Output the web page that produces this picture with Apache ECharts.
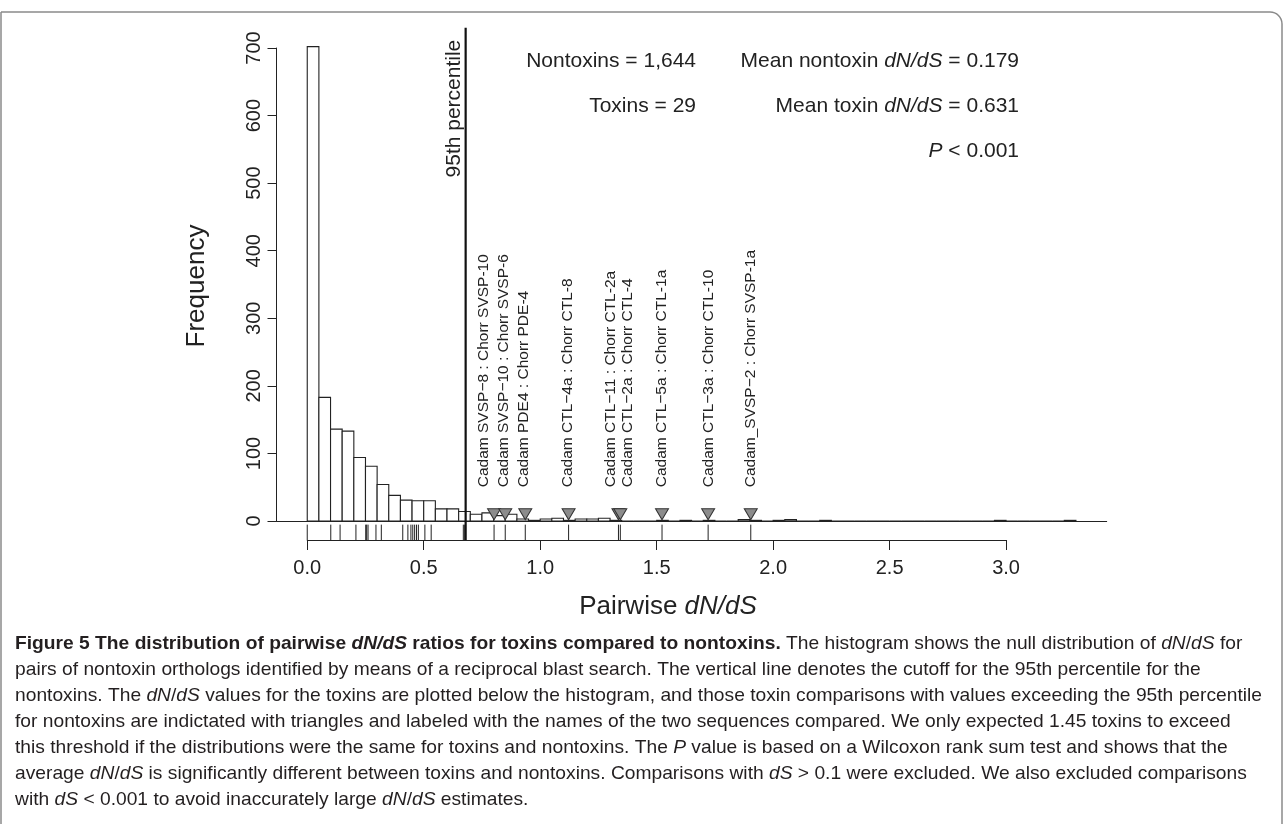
<!DOCTYPE html>
<html>
<head>
<meta charset="utf-8">
<title>Pairwise dN/dS</title>
<script src="https://cdn.jsdelivr.net/npm/echarts@6/dist/echarts.min.js"></script>
<style>
  html, body { margin: 0; padding: 0; background: #fff; }
  #chart { width: 1284px; height: 824px; }
</style>
</head>
<body>
<div id="chart"></div>
<script>
// nontoxin histogram, bins of 0.05 starting at 0
var binWidth = 0.05;
var nontoxinCounts = [
  702, 183, 136, 133, 94, 81, 54, 38, 31, 30,
  30, 18, 18, 14, 10, 12, 8, 10, 3, 1,
  3, 4, 1, 3, 3, 4, 1, 0, 0, 0,
  1, 0, 1, 0, 1, 0, 0, 2, 1, 0,
  1, 2, 0, 0, 1, 0, 0, 0, 0, 0,
  0, 0, 0, 0, 0, 0, 0, 0, 0, 1,
  0, 0, 0, 0, 0, 1
];

// toxin dN/dS values (rug)
var toxinRatios = [
  0.0, 0.101, 0.141, 0.209, 0.251, 0.255, 0.261, 0.295, 0.318,
  0.41, 0.432, 0.445, 0.453, 0.461, 0.469, 0.477, 0.505, 0.532,
  0.670, 0.676,
  0.802, 0.850, 0.936, 1.122, 1.336, 1.344, 1.523, 1.721, 1.904
];

var cutoff95 = 0.68;

// toxins above the cutoff (triangles + names)
var exceedRatios = [0.802, 0.850, 0.936, 1.122, 1.336, 1.344, 1.523, 1.721, 1.904];
var exceedNames = [
  'Cadam SVSP\u22128 : Chorr SVSP-10',
  'Cadam SVSP\u221210 : Chorr SVSP-6',
  'Cadam PDE4 : Chorr PDE-4',
  'Cadam CTL\u22124a : Chorr CTL-8',
  'Cadam CTL\u221211 : Chorr CTL-2a',
  'Cadam CTL\u22122a : Chorr CTL-4',
  'Cadam CTL\u22125a : Chorr CTL-1a',
  'Cadam CTL\u22123a : Chorr CTL-10',
  'Cadam_SVSP\u22122 : Chorr SVSP-1a'
];
// where the names sit along x (spread apart where they would collide)
var nameAt = [0.757, 0.843, 0.929, 1.118, 1.302, 1.376, 1.522, 1.722, 1.904];

var FONT = '"Liberation Sans", Arial, Helvetica, sans-serif';
var INK = '#222';

// plot region (R usr) and its place on the page
var X_MIN = -0.132, X_MAX = 3.432, Y_MIN = -28.08, Y_MAX = 730.08;
var plot = {left: 276.5, top: 27.7, width: 830.2, height: 512.3};
var pxX = plot.width / (X_MAX - X_MIN);
var pxY = plot.height / (Y_MAX - Y_MIN);

var chart = echarts.init(document.getElementById('chart'));

// caption, one entry per printed line: [style, text]
var captionLines = [
  [['b', 'Figure 5 The distribution of pairwise '], ['bi', 'dN/dS'], ['b', ' ratios for toxins compared to nontoxins.'],
   ['n', ' The histogram shows the null distribution of '], ['i', 'dN'], ['n', '/'], ['i', 'dS'], ['n', ' for']],
  [['n', 'pairs of nontoxin orthologs identified by means of a reciprocal blast search. The vertical line denotes the cutoff for the 95th percentile for the']],
  [['n', 'nontoxins. The '], ['i', 'dN'], ['n', '/'], ['i', 'dS'], ['n', ' values for the toxins are plotted below the histogram, and those toxin comparisons with values exceeding the 95th percentile']],
  [['n', 'for nontoxins are indictated with triangles and labeled with the names of the two sequences compared. We only expected 1.45 toxins to exceed']],
  [['n', 'this threshold if the distributions were the same for toxins and nontoxins. The '], ['i', 'P'], ['n', ' value is based on a Wilcoxon rank sum test and shows that the']],
  [['n', 'average '], ['i', 'dN'], ['n', '/'], ['i', 'dS'], ['n', ' is significantly different between toxins and nontoxins. Comparisons with '], ['i', 'dS'], ['n', ' > 0.1 were excluded. We also excluded comparisons']],
  [['n', 'with '], ['i', 'dS'], ['n', ' < 0.001 to avoid inaccurately large '], ['i', 'dN'], ['n', '/'], ['i', 'dS'], ['n', ' estimates.']]
];
var capSize = 19;
var capStyles = {
  n: {fontWeight: 'normal', fontStyle: 'normal'},
  i: {fontWeight: 'normal', fontStyle: 'italic'},
  b: {fontWeight: 'bold', fontStyle: 'normal'},
  bi: {fontWeight: 'bold', fontStyle: 'italic'}
};
var ctx = document.createElement('canvas').getContext('2d');
function lineWidth(line) {
  var w = 0;
  line.forEach(function (s) {
    var st = capStyles[s[0]];
    ctx.font = st.fontStyle + ' ' + st.fontWeight + ' ' + capSize + 'px ' + FONT;
    w += ctx.measureText(s[1]).width;
  });
  return w;
}
// the third line runs the full measure in the original
var capScale = 1247 / lineWidth(captionLines[2]);
var capRich = {};
Object.keys(capStyles).forEach(function (k) {
  capRich[k] = {
    fontFamily: FONT, fontSize: capSize, fill: '#231f20',
    fontWeight: capStyles[k].fontWeight, fontStyle: capStyles[k].fontStyle
  };
});
var captionGraphics = captionLines.map(function (line, i) {
  return {
    type: 'text', x: 15, y: 644 + i * 26, scaleX: capScale,
    style: {
      text: line.map(function (s) { return '{' + s[0] + '|' + s[1] + '}'; }).join(''),
      rich: capRich, textAlign: 'left', textVerticalAlign: 'middle'
    }
  };
});

function annot(x, y, text, align) {
  return {
    type: 'text', x: x, y: y,
    style: {
      text: text, textAlign: align, textVerticalAlign: 'middle',
      rich: {
        n: {fontFamily: FONT, fontSize: 21, fill: INK},
        i: {fontFamily: FONT, fontSize: 21, fill: INK, fontStyle: 'italic'}
      }
    }
  };
}

var option = {
  animation: false,
  backgroundColor: '#fff',
  grid: [
    {left: plot.left, top: plot.top, width: plot.width, height: plot.height},
    // y axis drawn only from 0 to 700
    {left: plot.left, top: plot.top + (Y_MAX - 700) * pxY, width: 10, height: 700 * pxY},
    // x axis drawn only from 0.0 to 3.0
    {left: plot.left + (0 - X_MIN) * pxX, top: plot.top + plot.height - 10, width: 3 * pxX, height: 10}
  ],
  xAxis: [
    {gridIndex: 0, type: 'value', min: X_MIN, max: X_MAX,
     axisLine: {show: true, onZero: true, lineStyle: {color: INK, width: 1}},
     axisTick: {show: false}, axisLabel: {show: false}, splitLine: {show: false}},
    {gridIndex: 1, type: 'value', min: 0, max: 1, show: false},
    {gridIndex: 2, type: 'value', min: 0, max: 3, interval: 0.5, position: 'bottom',
     axisLine: {show: true, onZero: false, lineStyle: {color: INK, width: 1}},
     axisTick: {show: true, length: 10, lineStyle: {color: INK, width: 1}},
     axisLabel: {margin: 18, fontSize: 20, fontFamily: FONT, color: INK,
                 formatter: function (v) { return v.toFixed(1); }},
     splitLine: {show: false}}
  ],
  yAxis: [
    {gridIndex: 0, type: 'value', min: Y_MIN, max: Y_MAX,
     axisLine: {show: false}, axisTick: {show: false}, axisLabel: {show: false}, splitLine: {show: false}},
    {gridIndex: 1, type: 'value', min: 0, max: 700, interval: 100,
     axisLine: {show: true, lineStyle: {color: INK, width: 1}},
     axisTick: {show: true, length: 9, lineStyle: {color: INK, width: 1}},
     axisLabel: {rotate: 90, margin: 12, fontSize: 20, fontFamily: FONT, color: INK},
     splitLine: {show: false}},
    {gridIndex: 2, type: 'value', min: 0, max: 1, show: false}
  ],
  series: [
    {
      name: 'nontoxins', type: 'custom', xAxisIndex: 0, yAxisIndex: 0,
      data: nontoxinCounts.map(function (n, i) { return [i * binWidth, n]; }),
      renderItem: function (params, api) {
        var x0 = api.value(0), n = api.value(1);
        var a = api.coord([x0, 0]);
        var b = api.coord([x0 + binWidth, n]);
        return {
          type: 'rect',
          shape: {x: a[0], y: b[1], width: b[0] - a[0], height: a[1] - b[1]},
          style: {fill: '#fff', stroke: INK, lineWidth: 1.1}
        };
      }
    },
    {
      name: 'rug', type: 'custom', xAxisIndex: 0, yAxisIndex: 0,
      data: toxinRatios.map(function (v) { return [v, 0]; }),
      renderItem: function (params, api) {
        var v = api.value(0);
        var a = api.coord([v, Y_MIN]);
        var b = api.coord([v, Y_MIN + 0.03 * (Y_MAX - Y_MIN)]);
        return {
          type: 'line',
          shape: {x1: a[0], y1: a[1], x2: b[0], y2: b[1]},
          style: {stroke: INK, lineWidth: 1}
        };
      }
    },
    {
      name: 'cutoff', type: 'custom', xAxisIndex: 0, yAxisIndex: 0, z: 5,
      data: [[cutoff95, 0]],
      renderItem: function (params, api) {
        var v = api.value(0);
        var a = api.coord([v, Y_MIN]);
        var b = api.coord([v, Y_MAX]);
        return {
          type: 'group',
          children: [
            {type: 'line', shape: {x1: a[0], y1: a[1], x2: b[0], y2: b[1]},
             style: {stroke: '#111', lineWidth: 2.2}},
            {type: 'text', x: b[0] - 11, y: b[1] + 12, rotation: Math.PI / 2,
             style: {text: '95th percentile', font: '21px ' + FONT, fill: INK,
                     textAlign: 'right', textVerticalAlign: 'middle'}}
          ]
        };
      }
    },
    {
      name: 'exceeding toxins', type: 'scatter', xAxisIndex: 0, yAxisIndex: 0, z: 6,
      data: exceedRatios.map(function (v) { return [v, 10]; }),
      symbol: 'triangle', symbolRotate: 180, symbolSize: [13, 11],
      itemStyle: {color: '#8c8c8c', borderColor: '#333', borderWidth: 1, opacity: 1}
    },
    {
      name: 'pair names', type: 'custom', xAxisIndex: 0, yAxisIndex: 0, z: 6,
      data: nameAt.map(function (v) { return [v, 0]; }),
      renderItem: function (params, api) {
        var p = api.coord([api.value(0), 50]);
        return {
          type: 'text', x: p[0], y: p[1], rotation: Math.PI / 2,
          style: {text: exceedNames[params.dataIndex], font: '15.5px ' + FONT, fill: INK,
                  textAlign: 'left', textVerticalAlign: 'middle'}
        };
      }
    }
  ],
  graphic: [
    {type: 'rect', shape: {x: 1, y: 12, width: 1281, height: 900, r: [0, 12, 0, 0]},
     style: {fill: 'none', stroke: '#8a8a8a', lineWidth: 1.5}, silent: true},
    annot(696, 61, '{n|Nontoxins = 1,644}', 'right'),
    annot(696, 106, '{n|Toxins = 29}', 'right'),
    annot(1019, 61, '{n|Mean nontoxin }{i|dN/dS}{n| = 0.179}', 'right'),
    annot(1019, 106, '{n|Mean toxin }{i|dN/dS}{n| = 0.631}', 'right'),
    annot(1019, 151, '{i|P}{n| < 0.001}', 'right'),
    {type: 'text', x: 197, y: 286, rotation: Math.PI / 2,
     style: {text: 'Frequency', font: '26px ' + FONT, fill: INK,
             textAlign: 'center', textVerticalAlign: 'middle'}},
    {type: 'text', x: 668, y: 607,
     style: {text: '{n|Pairwise }{i|dN/dS}', textAlign: 'center', textVerticalAlign: 'middle',
             rich: {n: {fontFamily: FONT, fontSize: 26, fill: INK},
                    i: {fontFamily: FONT, fontSize: 26, fill: INK, fontStyle: 'italic'}}}}
  ].concat(captionGraphics)
};

chart.setOption(option);
</script>
</body>
</html>
